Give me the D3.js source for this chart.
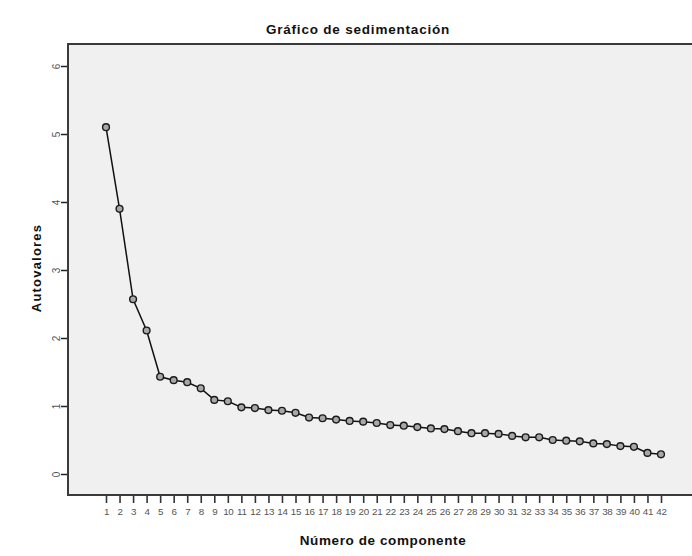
<!DOCTYPE html>
<html>
<head>
<meta charset="utf-8">
<script src="https://cdn.jsdelivr.net/npm/d3@7"></script>
<style>
  body { margin: 0; background: #fff; }
  svg { display: block; font-family: "Liberation Sans", Arial, sans-serif; }
  .title, .axis-label { font-weight: bold; fill: #111; }
  .tick text { fill: #555; }
</style>
</head>
<body>
<svg width="692" height="556"></svg>
<script>
      const titleText = 'Gráfico de sedimentación';
      const xLabel = 'Número de componente';
      const yLabel = 'Autovalores';
      const components = d3.range(1, 43);
      const eigenvalues = [
        5.10, 3.90, 2.57, 2.11, 1.43, 1.38, 1.35, 1.26, 1.09, 1.07,
        0.98, 0.97, 0.94, 0.93, 0.90, 0.83, 0.82, 0.80, 0.78, 0.77,
        0.75, 0.72, 0.71, 0.69, 0.67, 0.66, 0.63, 0.60, 0.60, 0.59,
        0.56, 0.54, 0.54, 0.50, 0.49, 0.48, 0.45, 0.44, 0.41, 0.40,
        0.31, 0.29
      ];
      const yTicks = [0, 1, 2, 3, 4, 5, 6];

      const data = components.map((c, i) => ({ comp: c, value: eigenvalues[i] }));

      const svg = d3.select('svg');
      const plot = { left: 68, top: 44, right: 700, bottom: 495 };

      const xScale = d3.scaleLinear().domain([1, 42]).range([106, 661]);
      const yScale = d3.scaleLinear().domain([0, 6]).range([474, 66]);

      // plot background
      svg.append('rect')
        .attr('x', plot.left)
        .attr('y', plot.top)
        .attr('width', plot.right - plot.left)
        .attr('height', plot.bottom - plot.top)
        .attr('fill', '#f0f0f0')
        .attr('stroke', '#3a3a3a')
        .attr('stroke-width', 2);

      // y axis
      const yAxisG = svg.append('g')
        .attr('transform', `translate(${plot.left - 1},0)`)
        .call(d3.axisLeft(yScale).tickValues(yTicks).tickFormat(d3.format('d')).tickSize(6).tickSizeOuter(0));
      yAxisG.select('.domain').remove();
      yAxisG.selectAll('.tick line').attr('stroke', '#222').attr('stroke-width', 1.5);
      yAxisG.selectAll('.tick text')
        .attr('font-size', 10)
        .attr('x', 0)
        .attr('dy', 0)
        .attr('text-anchor', 'middle')
        .attr('transform', 'translate(-10,0) rotate(-90) translate(0,3)');

      // x axis
      const xAxisG = svg.append('g')
        .attr('transform', `translate(0,${plot.bottom + 1})`)
        .call(d3.axisBottom(xScale).tickValues(components).tickFormat(d3.format('d')).tickSize(7).tickPadding(5).tickSizeOuter(0));
      xAxisG.select('.domain').remove();
      xAxisG.selectAll('.tick line').attr('stroke', '#333').attr('stroke-width', 1.6);
      xAxisG.selectAll('.tick text')
        .attr('font-size', 9.8)
        .attr('letter-spacing', -0.3);

      // line and markers
      const line = d3.line()
        .x(d => xScale(d.comp))
        .y(d => yScale(d.value));

      svg.append('path')
        .datum(data)
        .attr('fill', 'none')
        .attr('stroke', '#111')
        .attr('stroke-width', 1.5)
        .attr('d', line);

      svg.selectAll('circle.pt').data(data)
        .enter().append('circle')
          .attr('class', 'pt')
          .attr('cx', d => xScale(d.comp))
          .attr('cy', d => yScale(d.value))
          .attr('r', 3.4)
          .attr('fill', '#a8a8a8')
          .attr('stroke', '#1a1a1a')
          .attr('stroke-width', 1.4);

      // titles
      svg.append('text')
        .attr('class', 'title')
        .attr('x', 358)
        .attr('y', 34)
        .attr('text-anchor', 'middle')
        .attr('font-size', 13.5)
        .attr('letter-spacing', 0.8)
        .text(titleText);

      svg.append('text')
        .attr('class', 'axis-label')
        .attr('x', 383)
        .attr('y', 545)
        .attr('text-anchor', 'middle')
        .attr('font-size', 13.5)
        .attr('letter-spacing', 0.6)
        .text(xLabel);

      svg.append('text')
        .attr('class', 'axis-label')
        .attr('transform', 'translate(41,268) rotate(-90)')
        .attr('text-anchor', 'middle')
        .attr('font-size', 13)
        .attr('letter-spacing', 1.2)
        .text(yLabel);
</script>
</body>
</html>
